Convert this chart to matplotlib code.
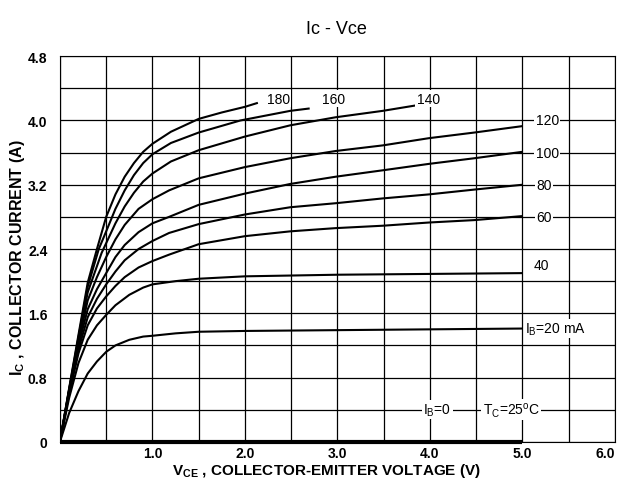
import matplotlib.pyplot as plt
import numpy as np

plt.rcParams['font.family'] = ['Liberation Sans', 'DejaVu Sans']

# base current (mA) -> (Vce, Ic) points
v180 = [0, 0.1, 0.2, 0.3, 0.4, 0.5, 0.6, 0.7, 0.8, 0.9, 1.0, 1.2, 1.5, 1.75, 2.0, 2.14]
i180 = [0, 0.67, 1.33, 1.98, 2.4, 2.8, 3.08, 3.3, 3.47, 3.61, 3.71, 3.86, 4.02, 4.1, 4.17, 4.22]
v160 = [0, 0.1, 0.2, 0.3, 0.42, 0.5, 0.6, 0.7, 0.8, 0.9, 1.0, 1.2, 1.5, 1.95, 2.49, 2.7]
i160 = [0, 0.66, 1.3, 1.93, 2.4, 2.62, 2.9, 3.13, 3.32, 3.47, 3.58, 3.72, 3.85, 4.0, 4.12, 4.15]
v140 = [0, 0.1, 0.2, 0.3, 0.45, 0.6, 0.7, 0.8, 0.9, 1.0, 1.2, 1.5, 2.0, 2.49, 2.98, 3.49, 3.86]
i140 = [0, 0.65, 1.27, 1.86, 2.35, 2.72, 2.93, 3.1, 3.24, 3.34, 3.49, 3.63, 3.8, 3.94, 4.04, 4.12, 4.19]
v120 = [0, 0.1, 0.2, 0.3, 0.4, 0.5, 0.6, 0.7, 0.85, 1.0, 1.18, 1.5, 2.0, 2.49, 2.98, 3.49, 3.99, 4.48, 5.0]
i120 = [0, 0.64, 1.24, 1.76, 2.05, 2.3, 2.52, 2.7, 2.9, 3.02, 3.13, 3.28, 3.42, 3.53, 3.62, 3.69, 3.78, 3.85, 3.93]
v100 = [0, 0.1, 0.2, 0.3, 0.4, 0.5, 0.6, 0.7, 0.85, 1.0, 1.18, 1.5, 2.0, 2.49, 2.98, 3.49, 3.99, 4.48, 5.0]
i100 = [0, 0.63, 1.2, 1.65, 1.9, 2.1, 2.3, 2.45, 2.61, 2.72, 2.8, 2.95, 3.09, 3.21, 3.3, 3.38, 3.46, 3.53, 3.61]
v80 = [0, 0.1, 0.2, 0.3, 0.4, 0.5, 0.6, 0.7, 0.85, 1.0, 1.18, 1.5, 2.0, 2.49, 2.98, 3.49, 3.99, 4.48, 5.0]
i80 = [0, 0.62, 1.15, 1.55, 1.78, 1.96, 2.12, 2.26, 2.4, 2.5, 2.6, 2.71, 2.83, 2.92, 2.97, 3.03, 3.08, 3.14, 3.2]
v60 = [0, 0.1, 0.2, 0.3, 0.4, 0.5, 0.6, 0.7, 0.85, 1.0, 1.18, 1.5, 2.0, 2.49, 2.98, 3.49, 3.99, 4.48, 5.0]
i60 = [0, 0.6, 1.1, 1.45, 1.66, 1.81, 1.94, 2.05, 2.17, 2.25, 2.33, 2.46, 2.56, 2.62, 2.66, 2.69, 2.73, 2.76, 2.81]
v40 = [0, 0.1, 0.2, 0.3, 0.4, 0.5, 0.6, 0.75, 0.9, 1.0, 1.25, 1.5, 2.0, 3.0, 4.0, 5.0]
i40 = [0, 0.55, 0.98, 1.27, 1.45, 1.58, 1.7, 1.83, 1.92, 1.96, 2.0, 2.03, 2.06, 2.08, 2.09, 2.1]
v20 = [0, 0.1, 0.2, 0.3, 0.4, 0.5, 0.6, 0.75, 0.9, 1.0, 1.25, 1.5, 2.0, 3.0, 4.0, 5.0]
i20 = [0, 0.36, 0.63, 0.85, 1.0, 1.12, 1.2, 1.27, 1.31, 1.32, 1.35, 1.37, 1.38, 1.39, 1.4, 1.41]
v0 = [0, 5.0]
i0 = [0, 0]

curves = [(v180, i180), (v160, i160), (v140, i140), (v120, i120), (v100, i100),
          (v80, i80), (v60, i60), (v40, i40), (v20, i20)]

xticks = [1.0, 2.0, 3.0, 4.0, 5.0, 6.0]
yticks = [0, 0.8, 1.6, 2.4, 3.2, 4.0, 4.8]
ytick_labels = ['0', '0.8', '1.6', '2.4', '3.2', '4.0', '4.8']

fig = plt.figure(figsize=(6.18, 4.85), dpi=100)
ax = fig.add_axes([0.097, 0.087, 0.898, 0.795])

for v, i in curves:
    ax.plot(v, i, color='black', lw=1.5, solid_capstyle='butt', solid_joinstyle='round', zorder=3)
ax.plot(v0, i0, color='black', lw=3, solid_capstyle='butt', zorder=3, clip_on=False)

ax.set_xlim(0, 6.0)
ax.set_ylim(0, 4.8)
ax.set_xticks(np.arange(0, 6.01, 0.5), minor=True)
ax.set_yticks(np.arange(0, 4.81, 0.4), minor=True)
ax.set_xticks(xticks)
ax.set_xticklabels([f'{t:.1f}' for t in xticks])
ax.set_yticks(yticks)
ax.set_yticklabels(ytick_labels)
ax.grid(which='both', color='black', lw=0.9)
ax.tick_params(which='both', length=0)
ax.tick_params(axis='x', pad=3, labelsize=10)
ax.tick_params(axis='y', pad=9, labelsize=10)
for lab in ax.get_xticklabels() + ax.get_yticklabels():
    lab.set_fontweight('bold')
ax.get_xticklabels()[-1].set_horizontalalignment('right')
for s in ax.spines.values():
    s.set_linewidth(0.8)

box = dict(facecolor='white', edgecolor='none', pad=1)
txt = dict(fontsize=10, ha='center', va='center', zorder=4)
ax.text(2.36, 4.27, '180', bbox=box, **txt)
ax.text(2.96, 4.27, '160', bbox=box, **txt)
ax.text(3.98, 4.27, '140', bbox=box, **txt)
ax.text(5.27, 4.0, '120', bbox=box, **txt)
ax.text(5.27, 3.6, '100', bbox=box, **txt)
ax.text(5.23, 3.2, '80', bbox=box, **txt)
ax.text(5.23, 2.8, '60', bbox=box, **txt)
ax.text(5.2, 2.2, '40', bbox=box, **txt)
ax.text(5.03, 1.41, r'I$_\mathregular{B}$=20 mA', bbox=box, fontsize=10, ha='left', va='center', zorder=4)
ax.text(4.08, 0.4, r'I$_\mathregular{B}$=0', bbox=box, fontsize=10, ha='center', va='center', zorder=4)
ax.text(4.88, 0.4, r'T$_\mathregular{C}$=25$^\mathregular{o}$C', bbox=box, fontsize=10, ha='center', va='center', zorder=4)

ax.set_xlabel(r'V$_\mathregular{CE}$ , COLLECTOR-EMITTER VOLTAGE (V)', fontsize=11, fontweight='bold')
ax.xaxis.set_label_coords(0.48, -0.05)
ax.set_ylabel(r'I$_\mathregular{C}$ , COLLECTOR CURRENT (A)', fontsize=11.5, fontweight='bold')
ax.yaxis.set_label_coords(-0.06, 0.48)
fig.text(0.545, 0.94, 'Ic - Vce', fontsize=13, ha='center', va='center')

fig.savefig('out.png', dpi=100)
